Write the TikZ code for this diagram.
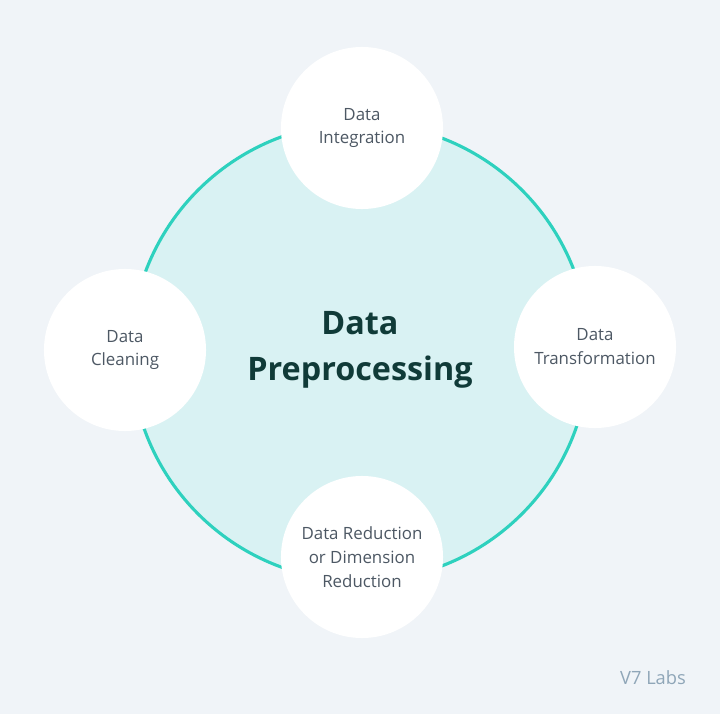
\documentclass[tikz,border=0pt]{standalone}
\usepackage{fontspec}
\setmainfont{Open Sans}
\definecolor{bgcol}{HTML}{F0F4F8}
\definecolor{ringcol}{HTML}{2ED1BE}
\definecolor{discol}{HTML}{D9F2F3}
\definecolor{titlecol}{HTML}{103B38}
\definecolor{labelcol}{HTML}{4D5864}
\definecolor{markcol}{HTML}{8FA6B8}
\tikzset{
  stage/.style={circle, fill=white, minimum size=4.05cm, inner sep=0pt,
    align=center, text=labelcol, font=\fontsize{12}{17}\selectfont},
}
\begin{document}
\begin{tikzpicture}[x=0.025cm,y=-0.025cm]
  \fill[bgcol] (0,0) rectangle (720,714);
  \draw[ringcol, line width=2.2pt, fill=discol] (360,352) circle (229);
  \node[font=\fontsize{23}{33}\selectfont\bfseries, text=titlecol, align=center] (core) at (360,350) {Data\\Preprocessing};
  \node[stage] (integ) at (362,128) {Data\\Integration};
  \node[stage] (clean) at (125,350) {Data\\Cleaning};
  \node[stage] (trans) at (595,347) {Data\\Transformation};
  \node[stage] (reduc) at (362,557) {Data Reduction\\or Dimension\\Reduction};
  \node[text=markcol, font=\fontsize{13}{15}\selectfont] (brand) at (653,678) {V7 Labs};
\end{tikzpicture}
\end{document}
